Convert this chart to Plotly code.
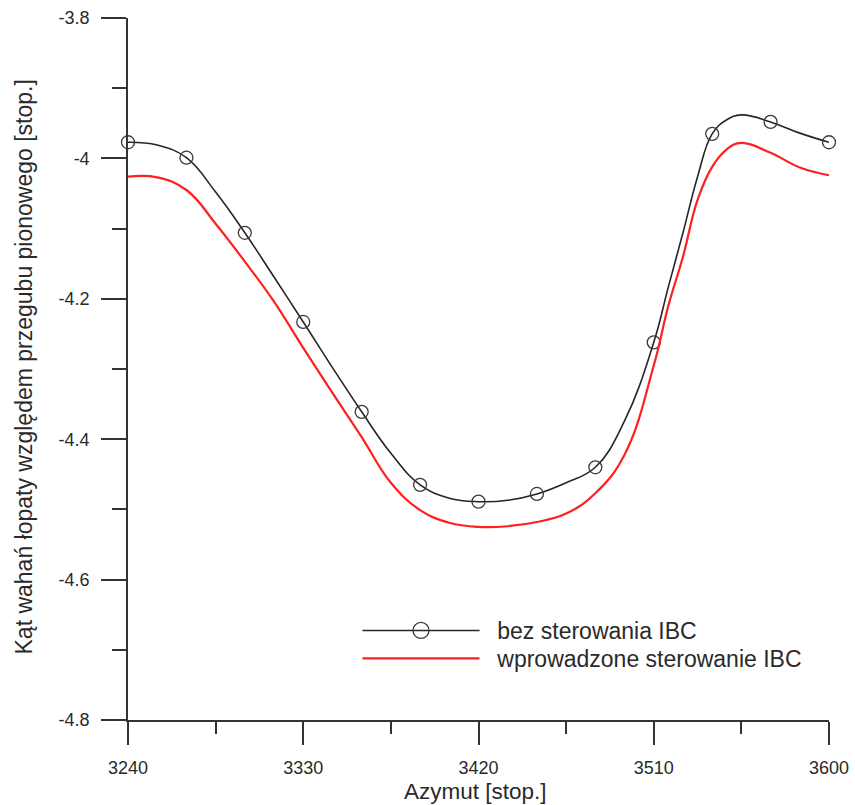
import plotly.graph_objects as go

# Azimuth values [deg]
azimuth_marker = [3240, 3270, 3300, 3330, 3360, 3390, 3420, 3450, 3480, 3510, 3540, 3570, 3600]
bez_marker = [-3.977, -3.999, -4.106, -4.233, -4.361, -4.465, -4.489, -4.478, -4.440, -4.262, -3.965, -3.948, -3.977]

azimuth_line = [3240, 3255, 3270, 3285, 3300, 3315, 3330, 3345, 3360, 3375, 3390, 3405, 3420,
                3435, 3450, 3465, 3480, 3495, 3510, 3517.5, 3525, 3532.5, 3540, 3547.5, 3555,
                3570, 3585, 3600]
bez_line = [-3.977, -3.981, -3.999, -4.048, -4.106, -4.169, -4.233, -4.298, -4.361, -4.420, -4.465,
            -4.484, -4.489, -4.487, -4.478, -4.462, -4.440, -4.374, -4.262, -4.183, -4.106, -4.026,
            -3.965, -3.945, -3.938, -3.948, -3.964, -3.977]
ibc_line = [-4.026, -4.027, -4.045, -4.093, -4.147, -4.204, -4.270, -4.334, -4.397, -4.462, -4.501,
            -4.519, -4.525, -4.524, -4.518, -4.506, -4.477, -4.422, -4.295, -4.210, -4.140, -4.059,
            -4.012, -3.987, -3.978, -3.992, -4.013, -4.024]

x_ticks = [3240, 3330, 3420, 3510, 3600]
y_ticks = [-3.8, -4.0, -4.2, -4.4, -4.6, -4.8]
y_ticktext = ["-3.8", "-4", "-4.2", "-4.4", "-4.6", "-4.8"]

name_bez = "bez sterowania IBC"
name_ibc = "wprowadzone sterowanie IBC"
pad = "\u00a0\u00a0"

BLACK = "#262626"
RED = "#ff1f1f"
TEXT = "#2a2a2a"
FONT = "Liberation Sans, Arial, sans-serif"
SMOOTH = 1.2

fig = go.Figure()
fig.add_trace(go.Scatter(x=azimuth_line, y=bez_line, mode="lines",
                         line=dict(color=BLACK, width=1.6, shape="spline", smoothing=SMOOTH),
                         showlegend=False, cliponaxis=False))
fig.add_trace(go.Scatter(x=azimuth_marker, y=bez_marker, mode="markers",
                         marker=dict(symbol="circle-open", size=13, color="#3a3a3a", line=dict(width=1.3)),
                         showlegend=False, cliponaxis=False))
fig.add_trace(go.Scatter(x=azimuth_line, y=ibc_line, mode="lines",
                         line=dict(color=RED, width=2.2, shape="spline", smoothing=SMOOTH),
                         showlegend=False, cliponaxis=False))
# legend entries
fig.add_trace(go.Scatter(x=[None], y=[None], mode="lines+markers", name=pad + name_bez, legend="legend",
                         line=dict(color=BLACK, width=1.6),
                         marker=dict(symbol="circle-open", size=16, color="#3a3a3a", line=dict(width=1.3))))
fig.add_trace(go.Scatter(x=[None], y=[None], mode="lines", name=pad + name_ibc, legend="legend2",
                         line=dict(color=RED, width=2.2)))

legend_common = dict(xanchor="left", yanchor="top", bgcolor="rgba(0,0,0,0)",
                     font=dict(size=23, color=TEXT), itemwidth=117)

fig.update_layout(
    width=855, height=805,
    margin=dict(l=128, r=26, t=18, b=85, autoexpand=False),
    paper_bgcolor="white", plot_bgcolor="white",
    font=dict(family=FONT, color=TEXT, size=18),
    showlegend=True,
    legend=dict(x=(357.5 - 128) / 701, y=(720 - 609) / 702, **legend_common),
    legend2=dict(x=(357.5 - 128) / 701, y=(720 - 637) / 702, **legend_common),
    xaxis=dict(range=[3240, 3600], tickvals=x_ticks, ticks="outside", ticklen=23, tickwidth=1.5,
               tickcolor="#333", showline=True, linecolor="#333", linewidth=1.5, showgrid=False, zeroline=False,
               ticklabelstandoff=8, automargin=False,
               minor=dict(dtick=45, tick0=3240, ticks="outside", ticklen=12, tickwidth=1.5, tickcolor="#333", showgrid=False)),
    yaxis=dict(range=[-4.8, -3.8], tickvals=y_ticks, ticktext=y_ticktext, ticks="outside", ticklen=25, tickwidth=1.5,
               tickcolor="#333", showline=True, linecolor="#333", linewidth=1.5, showgrid=False, zeroline=False,
               ticklabelstandoff=8, automargin=False,
               minor=dict(dtick=0.1, tick0=-3.8, ticks="outside", ticklen=14, tickwidth=1.5, tickcolor="#333", showgrid=False)),
    annotations=[
        dict(text="Azymut [stop.]", x=(475 - 128) / 701, y=(720 - 791) / 702, xref="paper", yref="paper",
             xanchor="center", yanchor="middle", showarrow=False, font=dict(size=22.5, color=TEXT)),
        dict(text="Kąt wahań łopaty względem przegubu pionowego [stop.]", x=(23 - 128) / 701, y=(720 - 367.5) / 702,
             xref="paper", yref="paper", xanchor="center", yanchor="middle", textangle=-90, showarrow=False,
             font=dict(size=23, color=TEXT)),
    ],
)

fig.write_html("out.html")
